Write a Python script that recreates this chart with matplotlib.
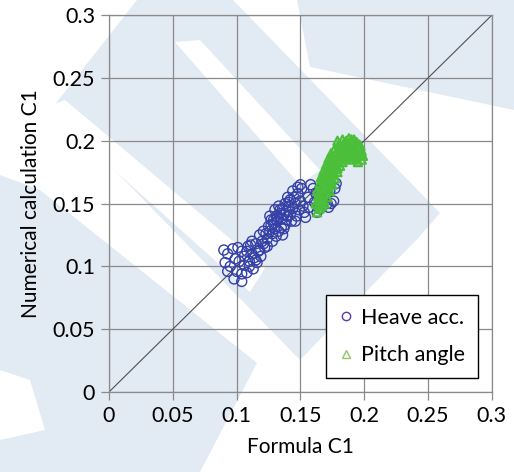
import matplotlib
matplotlib.use("Agg")
import matplotlib.pyplot as plt
from matplotlib.lines import Line2D
from matplotlib.patches import Polygon

# Heave acceleration based C1 (formula vs numerical)
heave_x = [0.090, 0.093, 0.097, 0.101, 0.104, 0.091, 0.095, 0.099, 0.102, 0.106,
           0.093, 0.100, 0.104, 0.098, 0.104, 0.108, 0.110, 0.108, 0.112, 0.110,
           0.113, 0.115, 0.106, 0.109,
           0.112, 0.115, 0.117, 0.118, 0.120, 0.121, 0.123, 0.119, 0.116, 0.122,
           0.124, 0.125, 0.126, 0.127, 0.128, 0.129, 0.130, 0.131, 0.132, 0.133,
           0.134, 0.135, 0.136, 0.137, 0.138, 0.139, 0.140, 0.141, 0.142, 0.143,
           0.144, 0.145, 0.146, 0.147, 0.148, 0.149, 0.150, 0.151, 0.152, 0.153,
           0.154, 0.150, 0.148, 0.135, 0.138, 0.130, 0.126, 0.140, 0.144, 0.133,
           0.128, 0.124, 0.131, 0.142, 0.146, 0.139, 0.136,
           0.127, 0.129, 0.132, 0.134, 0.137, 0.141, 0.121, 0.118, 0.114, 0.111,
           0.156, 0.158, 0.160, 0.162, 0.163, 0.165, 0.166, 0.167, 0.168, 0.170,
           0.171, 0.172, 0.174, 0.176, 0.177, 0.178, 0.169, 0.173, 0.157, 0.161]
heave_y = [0.113, 0.110, 0.114, 0.115, 0.112, 0.103, 0.100, 0.106, 0.104, 0.108,
           0.096, 0.096, 0.094, 0.090, 0.088, 0.095, 0.100, 0.112, 0.110, 0.104,
           0.098, 0.105, 0.101, 0.116,
           0.120, 0.118, 0.112, 0.125, 0.120, 0.128, 0.126, 0.108, 0.103, 0.115,
           0.122, 0.132, 0.128, 0.137, 0.120, 0.134, 0.130, 0.140, 0.136, 0.128,
           0.142, 0.138, 0.146, 0.130, 0.150, 0.144, 0.140, 0.148, 0.153, 0.136,
           0.146, 0.155, 0.150, 0.140, 0.158, 0.145, 0.152, 0.162, 0.148, 0.143,
           0.139, 0.165, 0.163, 0.131, 0.133, 0.145, 0.140, 0.155, 0.160, 0.148,
           0.126, 0.116, 0.124, 0.141, 0.136, 0.137, 0.125,
           0.133, 0.137, 0.139, 0.145, 0.141, 0.151, 0.118, 0.113, 0.107, 0.117,
           0.155, 0.165, 0.162, 0.158, 0.143, 0.146, 0.152, 0.160, 0.165, 0.158,
           0.150, 0.147, 0.150, 0.152, 0.162, 0.166, 0.155, 0.160, 0.147, 0.151]

# Pitch angle based C1
pitch_x = [0.163, 0.165, 0.162, 0.166, 0.169, 0.164, 0.168, 0.171, 0.163, 0.166,
           0.170, 0.173, 0.165, 0.168, 0.172, 0.175, 0.166, 0.170, 0.174, 0.177,
           0.168, 0.172, 0.176, 0.179, 0.170, 0.174, 0.178, 0.181, 0.172, 0.176,
           0.180, 0.184, 0.174, 0.178, 0.182, 0.186, 0.190, 0.194, 0.198, 0.177,
           0.181, 0.185, 0.189, 0.193, 0.197, 0.199, 0.180, 0.184, 0.188, 0.192,
           0.196, 0.186, 0.190, 0.194, 0.191, 0.195, 0.183, 0.179, 0.175, 0.171,
           0.167, 0.164, 0.167, 0.173, 0.177, 0.185, 0.189, 0.193,
           0.164, 0.167, 0.170, 0.165, 0.169, 0.172, 0.167, 0.171, 0.174, 0.169,
           0.173, 0.176, 0.171, 0.175, 0.178, 0.173, 0.177, 0.180, 0.175, 0.179,
           0.183, 0.187, 0.183, 0.187, 0.191, 0.195, 0.182, 0.186, 0.190, 0.194,
           0.198, 0.188, 0.192, 0.197, 0.179, 0.183, 0.188, 0.192, 0.196, 0.193]
pitch_y = [0.143, 0.146, 0.150, 0.152, 0.150, 0.156, 0.157, 0.155, 0.160, 0.162,
           0.161, 0.160, 0.166, 0.167, 0.166, 0.165, 0.171, 0.172, 0.171, 0.170,
           0.176, 0.177, 0.176, 0.175, 0.181, 0.182, 0.181, 0.180, 0.186, 0.187,
           0.186, 0.185, 0.190, 0.191, 0.190, 0.189, 0.188, 0.186, 0.185, 0.194,
           0.195, 0.194, 0.193, 0.192, 0.190, 0.188, 0.197, 0.198, 0.197, 0.196,
           0.194, 0.200, 0.201, 0.199, 0.185, 0.183, 0.183, 0.178, 0.174, 0.169,
           0.164, 0.153, 0.148, 0.183, 0.184, 0.192, 0.190, 0.189,
           0.149, 0.153, 0.158, 0.158, 0.163, 0.163, 0.169, 0.168, 0.168, 0.174,
           0.174, 0.173, 0.179, 0.179, 0.178, 0.184, 0.184, 0.183, 0.188, 0.188,
           0.188, 0.187, 0.192, 0.191, 0.190, 0.189, 0.196, 0.196, 0.194, 0.193,
           0.192, 0.198, 0.198, 0.196, 0.200, 0.201, 0.202, 0.201, 0.197, 0.187]

ticks = [0, 0.05, 0.1, 0.15, 0.2, 0.25, 0.3]
tick_labels = ["0", "0.05", "0.1", "0.15", "0.2", "0.25", "0.3"]

plt.rcParams["font.family"] = ["Lato", "DejaVu Sans"]

W, H = 514, 472
fig = plt.figure(figsize=(W / 100, H / 100), dpi=100)

# faint watermark stripes behind the chart (pixel coords, y down)
wm_blue = [
    [(297, 0), (514, 0), (514, 110), (310, 67)],
    [(137, 0), (233, 0), (440, 213), (420, 236), (300, 360), (53, 107)],
    [(0, 175), (40, 190), (257, 363), (200, 472), (0, 472)],
]
wm_white = [
    [(175, 42), (200, 40), (320, 170), (300, 185)],
    [(45, 108), (65, 100), (265, 268), (250, 292)],
    [(0, 370), (30, 380), (45, 430), (0, 440)],
]
for pts, col in [(p, "#e2eaf4") for p in wm_blue] + [(p, "white") for p in wm_white]:
    fig.patches.append(Polygon([(x / W, 1 - y / H) for x, y in pts],
                               closed=True, transform=fig.transFigure,
                               facecolor=col, edgecolor="none", zorder=-10))

ax = fig.add_axes([0.212, 0.1695, 0.745, 0.7985])
ax.patch.set_alpha(0)

grid_c = "#8a8a8a"
ax.set_xlim(0, 0.3)
ax.set_ylim(0, 0.3)
ax.set_xticks(ticks)
ax.set_yticks(ticks)
ax.set_xticklabels(tick_labels)
ax.set_yticklabels(tick_labels)
ax.grid(True, color=grid_c, linewidth=0.9)
ax.set_axisbelow(True)
for s in ax.spines.values():
    s.set_color(grid_c)
    s.set_linewidth(0.9)
ax.tick_params(length=6, width=0.9, color=grid_c, labelsize=15.5, pad=4)

ax.plot([0, 0.3], [0, 0.3], color="#505050", linewidth=0.8, zorder=2)

heave_c = "#3540a8"
pitch_c = "#4cbf3a"
ax.scatter(heave_x, heave_y, s=52, facecolors="none", edgecolors=heave_c,
           linewidths=1.0, zorder=3)
ax.scatter(pitch_x, pitch_y, s=34, marker="^", facecolors="none",
           edgecolors=pitch_c, linewidths=1.6, zorder=4)

ax.set_xlabel("Formula C1", fontsize=15, labelpad=8)
ax.set_ylabel("Numerical calculation C1", fontsize=15, labelpad=8)

handles = [
    Line2D([], [], linestyle="none", marker="o", markersize=6,
           markerfacecolor="none", markeredgecolor="#5a3ca8", label="Heave acc."),
    Line2D([], [], linestyle="none", marker="^", markersize=6,
           markerfacecolor="none", markeredgecolor="#8fc96a", label="Pitch angle"),
]
leg = ax.legend(handles=handles, loc="lower right", bbox_to_anchor=(0.963, 0.037),
                borderaxespad=0, fontsize=15.5, frameon=True, fancybox=False,
                framealpha=1, edgecolor="black", handlelength=0.6,
                handletextpad=0.4, labelspacing=0.8, borderpad=0.6)
leg.get_frame().set_linewidth(1.0)

plt.savefig("out.png", dpi=100)
